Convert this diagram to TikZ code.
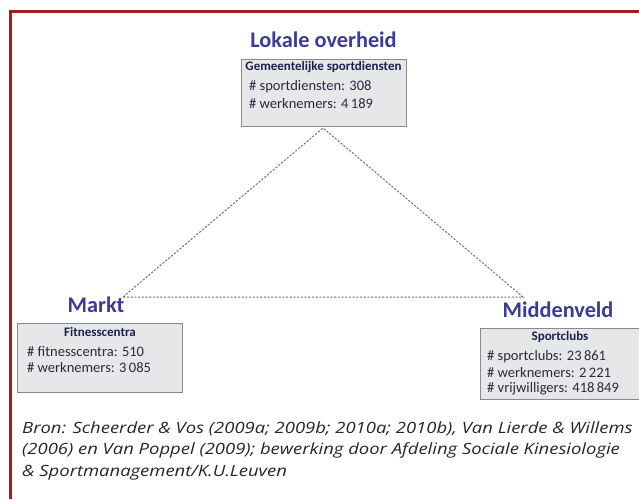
\documentclass[tikz,border=0pt]{standalone}
\usepackage{fontspec}
\setmainfont{Carlito}
\newfontfamily\capfont{Open Sans}
\begin{document}
\begin{tikzpicture}[x=1pt,y=-1pt,
  title/.style={font=\fontsize{22.3}{24}\selectfont\bfseries, text=titleblue, inner sep=0pt},
  databox/.style={draw=boxline, line width=1.3pt, fill=boxfill, inner sep=0pt, anchor=north west},
  boxhead/.style={font=\fontsize{13}{14}\selectfont\bfseries, text=headtext, inner sep=0pt},
  boxtext/.style={font=\fontsize{14.5}{16}\selectfont, text=bodytext, inner sep=0pt, anchor=west, align=left},
  link/.style={draw=linkgray, line width=1pt, dash pattern=on 2.2pt off 1.5pt}]
\definecolor{titleblue}{HTML}{3B3B98}
\definecolor{boxline}{HTML}{8A8A8C}
\definecolor{boxfill}{HTML}{E6E7E9}
\definecolor{headtext}{HTML}{1E1E50}
\definecolor{bodytext}{HTML}{2A2A3A}
\definecolor{linkgray}{HTML}{747474}
\definecolor{framered}{HTML}{AE1A24}
\useasboundingbox (0,0) rectangle (639,499);
\fill[white] (0,0) rectangle (639,499);
% frame
\draw[framered, line width=3pt] (10.5,499) -- (10.5,11.5) -- (639,11.5);
% titles
\node[title] (lok) at (323.5,40) {Lokale overheid};
\node[title] (markt) at (96,305) {Markt};
\node[title] (mid) at (558,310) {Middenveld};
% boxes
\node[databox, minimum width=165pt, minimum height=67pt] (lokbox) at (241,59) {};
\node[databox, minimum width=165pt, minimum height=69pt] (markbox) at (17,323) {};
\node[databox, minimum width=160pt, minimum height=71pt] (midbox) at (480,328) {};
% box headers
\node[boxhead] (lokhead) at (323.5,67) {Gemeentelijke sportdiensten};
\node[boxhead] (markhead) at (100,332) {Fitnesscentra};
\node[boxhead] (midhead) at (560,337) {Sportclubs};
% box texts
\node[boxtext] (lokt1) at (249,87) {\# sportdiensten: 308};
\node[boxtext] (lokt2) at (249,104) {\# werknemers: 4\,189};
\node[boxtext] (markt1) at (27,352) {\# fitnesscentra: 510};
\node[boxtext] (markt2) at (27,368) {\# werknemers: 3\,085};
\node[boxtext] (midt1) at (487,357) {\# sportclubs: 23\,861};
\node[boxtext] (midt2) at (487,373) {\# werknemers: 2\,221};
\node[boxtext] (midt3) at (487,389) {\# vrijwilligers: 418\,849};
% triangle
\coordinate (vtop) at (323,128);
\coordinate (vleft) at (123,297);
\coordinate (vright) at (523,297);
\draw[link] (vleft) -- (vtop) -- (vright) -- cycle;
% caption
\node[font=\capfont\itshape\fontsize{15.5}{21.5}\selectfont, text=black!85, anchor=north west, inner sep=0pt] (cap) at (22,418)
{\scalebox{1.19}[1]{\begin{tabular}{@{}l@{}}Bron: Scheerder \& Vos (2009a; 2009b; 2010a; 2010b), Van Lierde \& Willems\\
(2006) en Van Poppel (2009); bewerking door Afdeling Sociale Kinesiologie\\
\& Sportmanagement/K.U.Leuven\end{tabular}}};
\end{tikzpicture}
\end{document}
